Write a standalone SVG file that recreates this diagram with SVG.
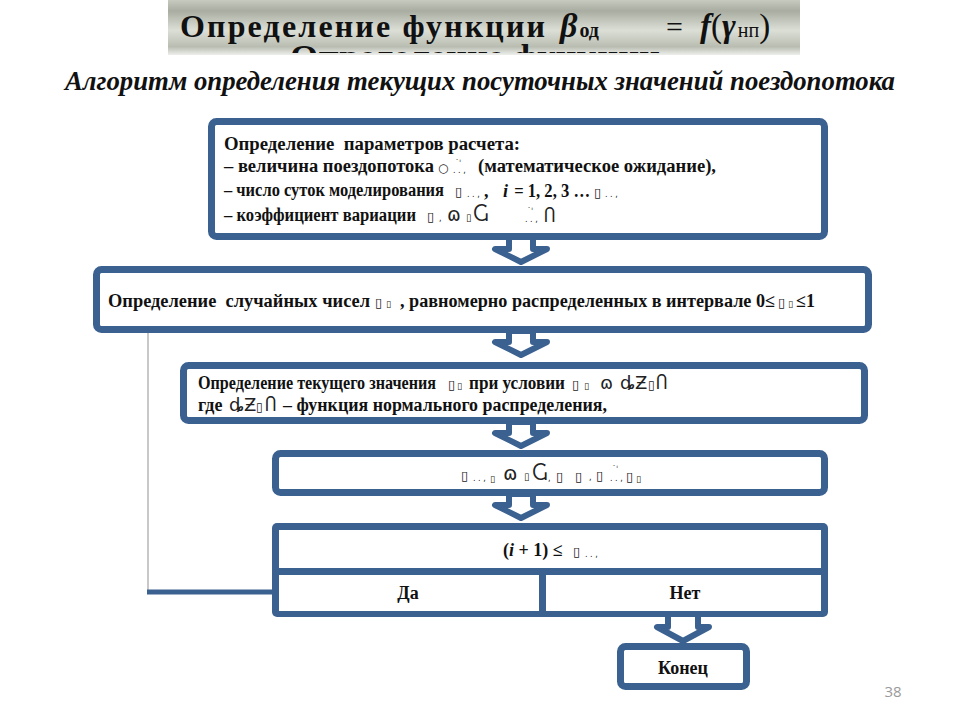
<svg xmlns="http://www.w3.org/2000/svg" width="960" height="720" viewBox="0 0 960 720">
<style>
.bx{fill:#fff;stroke:#3b6190;stroke-width:7}
.ar{fill:#fff;stroke:#3b6190;stroke-width:6;stroke-linejoin:round}
.t{font-family:"Liberation Serif",serif;font-weight:bold;font-size:18px;fill:#111}
.g{font-family:"DejaVu Sans",sans-serif;font-weight:normal;fill:#222}
.s{font-family:"DejaVu Sans",sans-serif;font-weight:normal;font-size:8px;fill:#222}
.ti{font-family:"Liberation Serif",serif;font-weight:bold;fill:#111}
</style>
<defs>
<linearGradient id="band" x1="0" y1="0" x2="0" y2="1">
<stop offset="0" stop-color="#c7cbbf"/>
<stop offset="0.2" stop-color="#a9ada1"/>
<stop offset="0.55" stop-color="#dcdfd6"/>
<stop offset="0.85" stop-color="#b9bdb1"/>
<stop offset="1" stop-color="#eeefec"/>
</linearGradient>
<clipPath id="ghost"><rect x="160" y="43" width="650" height="10"/></clipPath>
</defs>
<rect width="960" height="720" fill="#fff"/>
<g id="title">
<rect x="168" y="0" width="632" height="55" fill="url(#band)"/>
<text class="ti" x="290" y="68" clip-path="url(#ghost)" font-size="34" textLength="370" lengthAdjust="spacingAndGlyphs">Определение функции</text>
<text class="ti" x="180" y="37" font-size="32" textLength="365" lengthAdjust="spacing">Определение функции</text>
<text class="ti" x="560" y="37" font-style="italic" font-size="34">β<tspan font-style="normal" font-size="20" dx="2">од</tspan></text>
<text x="666" y="37" font-family="'Liberation Serif',serif" font-size="30" fill="#111">=</text>
<text class="ti" x="700" y="37" font-style="italic" font-size="33">f<tspan font-style="normal" font-weight="normal">(</tspan>γ<tspan font-style="normal" font-weight="normal" font-size="20" dx="2">нп</tspan><tspan font-style="normal" font-weight="normal">)</tspan></text>
</g>
<g id="subtitle">
<text x="65" y="90" font-family="'Liberation Serif',serif" font-weight="bold" font-style="italic" font-size="27" fill="#111" textLength="830" lengthAdjust="spacingAndGlyphs">Алгоритм определения текущих посуточных значений поездопотока</text>
</g>
<g id="connectors">
<line x1="148" y1="333" x2="148" y2="593" stroke="#c8c8c8" stroke-width="2"/>
<line x1="147" y1="592" x2="274" y2="592" stroke="#3b6190" stroke-width="5"/>
<path class="ar" d="M509,236 L533,236 L533,249 L547,249 L521,262 L495,249 L509,249 Z"/>
<path class="ar" d="M509,331 L533,331 L533,342 L547,342 L521,355 L495,342 L509,342 Z"/>
<path class="ar" d="M509,422 L533,422 L533,433 L547,433 L521,446 L495,433 L509,433 Z"/>
<path class="ar" d="M509,494 L533,494 L533,505 L547,505 L521,518 L495,505 L509,505 Z"/>
<path class="ar" d="M668,614 L698,614 L698,627 L709,627 L683,641 L657,627 L668,627 Z"/>
</g>
<g id="params">
<rect class="bx" x="211.5" y="121.5" width="613" height="115" rx="5"/>
<text class="t" x="224" y="150" textLength="296" lengthAdjust="spacingAndGlyphs" xml:space="preserve">Определение  параметров расчета:</text>
<text class="t" y="172"><tspan x="224" textLength="210" lengthAdjust="spacingAndGlyphs">– величина поездопотока</tspan><tspan class="g" x="438" font-size="12">○</tspan><tspan class="s" x="455" y="166">˙ˈ</tspan><tspan class="s" x="453" y="173">. . ,</tspan><tspan x="478" y="172" textLength="238" lengthAdjust="spacingAndGlyphs">(математическое ожидание),</tspan></text>
<text class="t" y="196"><tspan x="224" textLength="220" lengthAdjust="spacingAndGlyphs">– число суток моделирования</tspan><tspan class="g" x="455" font-size="13">▯</tspan><tspan class="s" x="467" y="197">. . ,</tspan><tspan x="484">,</tspan><tspan x="503" font-style="italic">i</tspan><tspan x="510" textLength="80" lengthAdjust="spacingAndGlyphs"> = 1, 2, 3 …</tspan><tspan class="g" x="594" font-size="13">▯</tspan><tspan class="s" x="605" y="197">. . ,</tspan></text>
<text class="t" y="221"><tspan x="224" textLength="192" lengthAdjust="spacingAndGlyphs">– коэффициент вариации</tspan><tspan class="g" x="427" font-size="13">▯</tspan><tspan class="s" x="439" y="221">,</tspan><tspan class="g" x="447" font-size="19">ɷ</tspan><tspan class="g" x="466" font-size="10">▯</tspan><tspan class="g" x="473" font-size="19">Ⴚ</tspan><tspan class="s" x="527" y="214">˙ˈ</tspan><tspan class="s" x="525" y="222">. . ,</tspan><tspan class="g" x="544" font-size="18">Ⴖ</tspan></text>
</g>
<g id="random">
<rect class="bx" x="96.5" y="269.5" width="772" height="60" rx="5"/>
<text class="t" y="307"><tspan x="108" textLength="262" lengthAdjust="spacingAndGlyphs" xml:space="preserve">Определение  случайных чисел</tspan><tspan class="g" x="375" font-size="13">▯</tspan><tspan class="g" x="386" font-size="9">▯</tspan><tspan x="400" textLength="375" lengthAdjust="spacingAndGlyphs">, равномерно распределенных в интервале 0≤</tspan><tspan class="g" x="778" font-size="13">▯</tspan><tspan class="g" x="788" font-size="9">▯</tspan><tspan x="796">≤1</tspan></text>
</g>
<g id="current">
<rect class="bx" x="183.5" y="365.5" width="681" height="55" rx="5"/>
<text class="t" y="389"><tspan x="198" textLength="238" lengthAdjust="spacingAndGlyphs">Определение текущего значения</tspan><tspan class="g" x="448" font-size="13">▯</tspan><tspan class="g" x="457" font-size="9">▯</tspan><tspan x="469" textLength="96" lengthAdjust="spacingAndGlyphs">при условии</tspan><tspan class="g" x="572" font-size="13">▯</tspan><tspan class="g" x="584" font-size="9">▯</tspan><tspan class="g" x="600" font-size="18">ɷ</tspan><tspan class="g" x="620" font-size="18">ȡƵ</tspan><tspan class="g" x="648" font-size="12">▯</tspan><tspan class="g" x="656" font-size="18">Ⴖ</tspan></text>
<text class="t" y="411"><tspan x="198">где</tspan><tspan class="g" x="229" font-size="18">ȡƵ</tspan><tspan class="g" x="256" font-size="12">▯</tspan><tspan class="g" x="265" font-size="18">Ⴖ</tspan><tspan x="283" textLength="324" lengthAdjust="spacingAndGlyphs">– функция нормального распределения,</tspan></text>
</g>
<g id="formula">
<rect class="bx" x="275.5" y="453.5" width="549" height="39" rx="5"/>
<text class="t" y="480"><tspan class="g" x="461" font-size="13">▯</tspan><tspan class="s" x="473" y="481">. . ,</tspan><tspan class="g" x="490" font-size="9" y="482">▯</tspan><tspan class="g" x="503" font-size="20" y="480">ɷ</tspan><tspan class="g" x="524" font-size="10">▯</tspan><tspan class="g" x="532" font-size="19">Ⴚ</tspan><tspan class="s" x="548" y="481">,</tspan><tspan class="g" x="556" font-size="13">▯</tspan><tspan class="g" x="575" font-size="13">▯</tspan><tspan class="s" x="589" y="480">,</tspan><tspan class="g" x="596" font-size="13">▯</tspan><tspan class="s" x="612" y="472">˙ˈ</tspan><tspan class="s" x="610" y="481">. . ,</tspan><tspan class="g" x="626" font-size="13">▯</tspan><tspan class="g" x="636" font-size="9" y="482">▯</tspan></text>
</g>
<g id="decision">
<rect x="272" y="523" width="556" height="94" rx="5" fill="#3b6190"/>
<rect x="279" y="530" width="542" height="38" fill="#fff"/>
<rect x="279" y="575" width="260" height="36" fill="#fff"/>
<rect x="546" y="575" width="275" height="36" fill="#fff"/>
<text class="t" y="556"><tspan x="503">(</tspan><tspan font-style="italic">i</tspan><tspan> + 1) ≤</tspan><tspan class="g" x="573" font-size="13">▯</tspan><tspan class="s" x="585" y="557">. . ,</tspan></text>
<text class="t" x="408" y="599" text-anchor="middle">Да</text>
<text class="t" x="685" y="599" text-anchor="middle">Нет</text>
</g>
<g id="end">
<rect class="bx" x="620.5" y="646.5" width="126" height="40" rx="5"/>
<text class="t" x="683" y="674" text-anchor="middle">Конец</text>
</g>
<text x="893" y="697" text-anchor="middle" font-family="'Open Sans','Liberation Sans',sans-serif" font-size="15" fill="#9a9a9a">38</text>
</svg>
